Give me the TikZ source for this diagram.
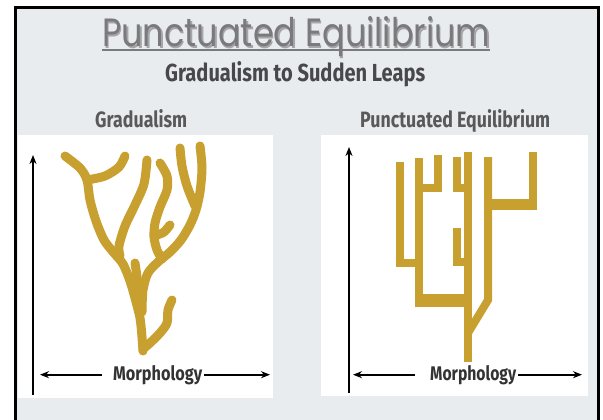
\documentclass[tikz,border=0pt]{standalone}
\usepackage{fontspec}
\usepackage{graphicx}
\setmainfont{Fira Sans}
\newfontfamily\titlefont{Poppins}
\usetikzlibrary{arrows.meta}

% squeeze a text into a box of given width and height (in pt)
\newcommand{\fitbox}[3]{\resizebox{#1pt}{#2pt}{#3}}

\definecolor{bggray}{RGB}{233,236,239}
\definecolor{treegold}{RGB}{200,160,48}
\definecolor{titlegray}{RGB}{122,122,126}
\definecolor{subgray}{RGB}{72,72,76}

\begin{document}
\begin{tikzpicture}[
  x=1pt, y=-1pt,
  txt/.style={inner sep=0pt, anchor=base west},
  axis/.style={line width=1.8pt, -{Stealth[length=9pt,width=7pt]}},
  gradual/.style={treegold, line width=9pt, line cap=round, line join=round},
  punct/.style={treegold, line width=8pt, line join=miter},
]
  \useasboundingbox (0,0) rectangle (603,420);
  \fill[white] (0,0) rectangle (603,420);
  \fill[bggray] (15,8) rectangle (598,420);
  \draw[line width=3pt] (15,420) -- (15,8) -- (598,8) -- (598,420);

  % white panels
  \fill[white] (18,135) rectangle (273,398);
  \fill[white] (321,135) rectangle (588,396);

  % headings
  \node[txt, text=black!35] (titleshadow) at (103.5,48.5)
    {\titlefont\fitbox{388}{30}{Punctuated Equilibrium}};
  \node[txt, text=titlegray] (title) at (102,47)
    {\titlefont\fitbox{388}{30}{Punctuated Equilibrium}};
  \draw[titlegray, line width=2pt]
    ([yshift=-3pt]title.base west) -- ([yshift=-3pt]title.base east);
  \node[txt, text=subgray] (subtitle) at (165,82)
    {\bfseries\fitbox{260}{20}{Gradualism to Sudden Leaps}};
  \node[txt, text=black!65] (gradlabel) at (95,128)
    {\bfseries\fitbox{92}{18}{Gradualism}};
  \node[txt, text=black!65] (punclabel) at (360,128)
    {\bfseries\fitbox{190}{18}{Punctuated Equilibrium}};

  % axes, left panel
  \node[txt, text=black!80] (morphL) at (113,380)
    {\bfseries\fitbox{89}{15}{Morphology}};
  \coordinate (lefttipL)  at (40,375);
  \coordinate (righttipL) at (270,375);
  \coordinate (baseL) at (33,395);
  \coordinate (topL)  at (33,155);
  \draw[axis] ([xshift=-11pt]morphL.west) -- (morphL.west -| lefttipL);
  \draw[axis] ([xshift=2pt]morphL.east) -- (morphL.east -| righttipL);
  \draw[axis] (baseL) -- (topL);

  % axes, right panel
  \node[txt, text=black!80] (morphR) at (430,380)
    {\bfseries\fitbox{86}{15}{Morphology}};
  \coordinate (lefttipR)  at (353,375);
  \coordinate (righttipR) at (582,375);
  \coordinate (baseR) at (349,393);
  \coordinate (topR)  at (349,147);
  \draw[axis] ([xshift=-15pt]morphR.west) -- (morphR.west -| lefttipR);
  \draw[axis] ([xshift=2pt]morphR.east) -- (morphR.east -| righttipR);
  \draw[axis] (baseR) -- (topR);

  % gradualism tree
  \draw[gradual] plot[smooth] coordinates {(65,156) (80,168) (87,180) (90,200)
    (96,221) (104,240) (114,253) (123,264) (130,281) (135,298) (140,318) (142,337) (143,351)};
  \draw[gradual] plot[smooth] coordinates {(87,180) (105,176) (119,167) (125,156)};
  \draw[gradual] plot[smooth] coordinates {(147,160) (144,184) (135,205) (125,226) (119,246) (120,256)};
  \draw[gradual] plot[smooth] coordinates {(135,263) (137,277) (138,290)};
  \draw[gradual] plot[smooth] coordinates {(160,163) (167,176) (167,190) (160,207)
    (155,223) (154,237) (157,250) (162,259)};
  \draw[gradual] plot[smooth] coordinates {(170,225) (164,232) (157,235)};
  \draw[gradual] plot[smooth] coordinates {(180,148) (182,166) (187,186) (195,206)};
  \draw[gradual] plot[smooth] coordinates {(200,146) (202,168) (200,192) (196,210)
    (190,225) (181,240) (170,252) (158,262) (148,273) (143,290) (142,312)};
  \draw[gradual] plot[smooth] coordinates {(172,300) (168,310) (167,323) (160,333)
    (150,343) (143,349)};

  % punctuated tree
  \draw[punct] (400,162) -- (400,263) -- (419,263);
  \draw[punct] (419,158) -- (419,306);
  \draw[punct, line width=13pt] (415,300) -- (472,300);
  \draw[punct] (419,188) -- (438,188) -- (438,155);
  \draw[punct] (457,157) -- (457,188) -- (468,188);
  \draw[punct] (457,228) -- (457,262) -- (468,262);
  \draw[punct] (468,152) -- (468,362);
  \draw[punct] (488,157) -- (488,300) -- (468,333);
  \draw[punct, line width=11pt] (488,204) -- (537,204);
  \draw[punct] (533,152) -- (533,209);
\end{tikzpicture}
\end{document}
